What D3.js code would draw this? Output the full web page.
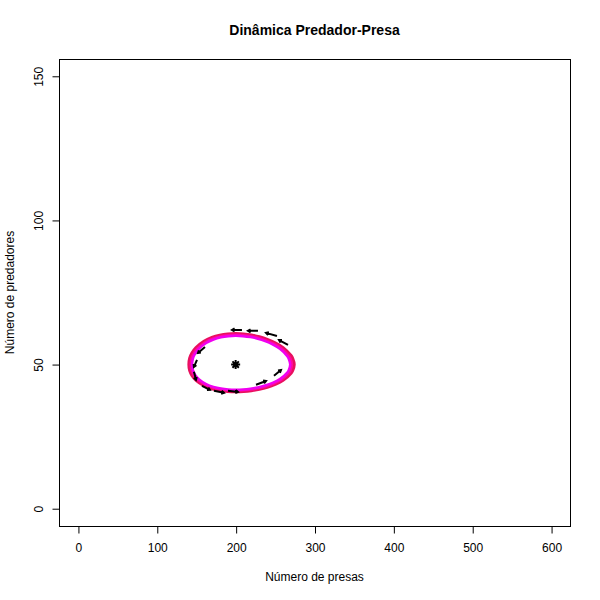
<!DOCTYPE html>
<html><head><meta charset="utf-8">
<script src="https://cdn.jsdelivr.net/npm/d3@7"></script>
<style>body{margin:0;background:#fff}svg{display:block}text{font-family:"Liberation Sans",Arial,Helvetica,sans-serif}</style>
</head><body>
<svg id="chart" width="600" height="600"></svg>
<script>
const title = "Dinâmica Predador-Presa";
const xLabel = "Número de presas";
const yLabel = "Número de predadores";
const xTicks = [0, 100, 200, 300, 400, 500, 600];
const yTicks = [0, 50, 100, 150];
const equilibrium = [200, 50];

// Orbit 1 (outer)
const orbit1X = [141, 142, 145, 150, 160, 170, 180, 190, 200, 210, 220, 230, 240, 250, 260, 270, 272, 274, 272, 270, 260, 250, 240, 230, 220, 210, 200, 190, 180, 170, 160, 150, 145, 142];
const orbit1Y = [50, 47.90, 46.19, 44.60, 42.77, 41.71, 41.09, 40.76, 40.66, 40.75, 41.04, 41.52, 42.21, 43.19, 44.59, 47.02, 47.91, 50, 52.16, 53.10, 55.83, 57.49, 58.69, 59.57, 60.19, 60.55, 60.68, 60.54, 60.11, 59.31, 58.00, 55.82, 54.03, 52.17];
// Orbit 2 (middle)
const orbit2X = [143.1, 144.0, 146.9, 151.8, 161.4, 171.0, 180.7, 190.4, 200, 209.7, 219.3, 229.0, 238.6, 248.3, 257.9, 267.6, 269.5, 271.4, 269.5, 267.6, 257.9, 248.3, 238.6, 229.0, 219.3, 209.7, 200, 190.4, 180.7, 171.0, 161.4, 151.8, 146.9, 144.0];
const orbit2Y = [50, 47.97, 46.32, 44.79, 43.02, 42.00, 41.40, 41.08, 40.99, 41.07, 41.35, 41.82, 42.48, 43.43, 44.78, 47.12, 47.98, 50, 52.08, 52.99, 55.63, 57.23, 58.39, 59.24, 59.83, 60.18, 60.31, 60.17, 59.76, 58.98, 57.72, 55.62, 53.89, 52.09];
// Orbit 3 (inner)
const orbit3X = [144.8, 145.8, 148.6, 153.3, 162.6, 171.9, 181.3, 190.7, 200, 209.4, 218.7, 228.1, 237.4, 246.8, 256.1, 265.5, 267.3, 269.2, 267.3, 265.5, 256.1, 246.8, 237.4, 228.1, 218.7, 209.4, 200, 190.7, 181.3, 171.9, 162.6, 153.3, 148.6, 145.8];
const orbit3Y = [50, 48.04, 46.44, 44.95, 43.24, 42.25, 41.67, 41.36, 41.27, 41.35, 41.62, 42.07, 42.72, 43.63, 44.94, 47.21, 48.05, 50, 52.02, 52.90, 55.45, 57.00, 58.13, 58.95, 59.53, 59.86, 59.99, 59.85, 59.45, 58.70, 57.48, 55.44, 53.77, 52.03];
const orbitColors = ["#e8105e", "#ff0a9a", "#f000f0"];
const orbitWidths = [3.5, 2.5, 2.5];

// Arrows (tail -> head)
const arrowX0 = [208.0, 228.3, 252.4, 266.4, 161.1, 151.0, 147.1, 157.3, 172.5, 190.3, 225.8, 248.6];
const arrowY0 = [62.0, 61.7, 59.9, 56.8, 56.1, 51.6, 47.5, 42.6, 40.9, 40.9, 43.0, 46.1];
const arrowX1 = [195.4, 215.7, 238.5, 255.0, 152.2, 147.1, 149.7, 167.4, 185.2, 203.0, 238.5, 257.5];
const arrowY1 = [62.0, 61.7, 61.0, 58.5, 54.0, 49.2, 44.7, 41.2, 40.2, 40.5, 44.3, 48.1];

const svg = d3.select("#chart");
const L = 59, R = 570, T = 59, B = 526;
const x = d3.scaleLinear().domain([-24, 624]).range([L, R]);
const y = d3.scaleLinear().domain([-6, 156]).range([B, T]);

svg.append("rect").attr("x", L + 0.5).attr("y", T + 0.5).attr("width", R - L).attr("height", B - T)
  .attr("fill", "none").attr("stroke", "#000").attr("stroke-width", 1);

const xAxis = d3.axisBottom(x).tickValues(xTicks).tickSize(7).tickPadding(10).tickFormat(d3.format("d"));
const gx = svg.append("g").attr("transform", `translate(0.5,${B + 0.5})`).call(xAxis);
gx.select(".domain").attr("d", `M${x(0)},0H${x(600)}`).attr("stroke", "#000");
gx.selectAll("text").attr("font-size", 12).attr("fill", "#000");

const yAxis = d3.axisLeft(y).tickValues(yTicks).tickSize(7).tickPadding(0).tickFormat(d3.format("d"));
const gy = svg.append("g").attr("transform", `translate(${L + 0.5},0.5)`).call(yAxis);
gy.select(".domain").attr("d", `M0,${y(0)}V${y(150)}`).attr("stroke", "#000");
gy.selectAll("text").attr("font-size", 12).attr("fill", "#000")
  .attr("transform", d => `translate(-21,${y(d)}) rotate(-90)`)
  .attr("x", 0).attr("y", 0).attr("dy", "0.35em").attr("text-anchor", "middle");
gy.selectAll(".tick").attr("transform", null);
gy.selectAll(".tick line").attr("transform", d => `translate(0,${y(d)})`);

svg.append("text").attr("x", (L + R) / 2).attr("y", 35).attr("text-anchor", "middle")
  .attr("font-size", 14).attr("font-weight", "bold").text(title);
svg.append("text").attr("x", (L + R) / 2).attr("y", 581).attr("text-anchor", "middle")
  .attr("font-size", 12).text(xLabel);
svg.append("text").attr("transform", `translate(14,${(T + B) / 2}) rotate(-90)`).attr("text-anchor", "middle")
  .attr("font-size", 12).text(yLabel);

const line = d3.line().x(d => x(d[0])).y(d => y(d[1])).curve(d3.curveCatmullRomClosed.alpha(0.5));
const orbits = [[orbit1X, orbit1Y], [orbit2X, orbit2Y], [orbit3X, orbit3Y]];
orbits.forEach(([xs, ys], i) => {
  svg.append("path").attr("d", line(xs.map((v, j) => [v, ys[j]])))
    .attr("fill", "none").attr("stroke", orbitColors[i]).attr("stroke-width", orbitWidths[i]);
});

const ag = svg.append("g").attr("stroke", "#000").attr("stroke-width", 2).attr("fill", "none").attr("stroke-linecap", "butt");
arrowX0.forEach((_, i) => {
  const x0 = x(arrowX0[i]), y0 = y(arrowY0[i]), x1 = x(arrowX1[i]), y1 = y(arrowY1[i]);
  const a = Math.atan2(y1 - y0, x1 - x0), h = 3, s = Math.PI / 6;
  ag.append("path").attr("d",
    `M${x0},${y0}L${x1},${y1}M${x1 - h * Math.cos(a - s)},${y1 - h * Math.sin(a - s)}L${x1},${y1}L${x1 - h * Math.cos(a + s)},${y1 - h * Math.sin(a + s)}`);
});

const cx = x(equilibrium[0]), cy = y(equilibrium[1]), r = 4.5;
svg.append("path").attr("d",
  `M${cx - r},${cy}H${cx + r}M${cx},${cy - r}V${cy + r}M${cx - r * 0.71},${cy - r * 0.71}L${cx + r * 0.71},${cy + r * 0.71}M${cx - r * 0.71},${cy + r * 0.71}L${cx + r * 0.71},${cy - r * 0.71}`)
  .attr("stroke", "#000").attr("stroke-width", 2);
</script>
</body></html>
